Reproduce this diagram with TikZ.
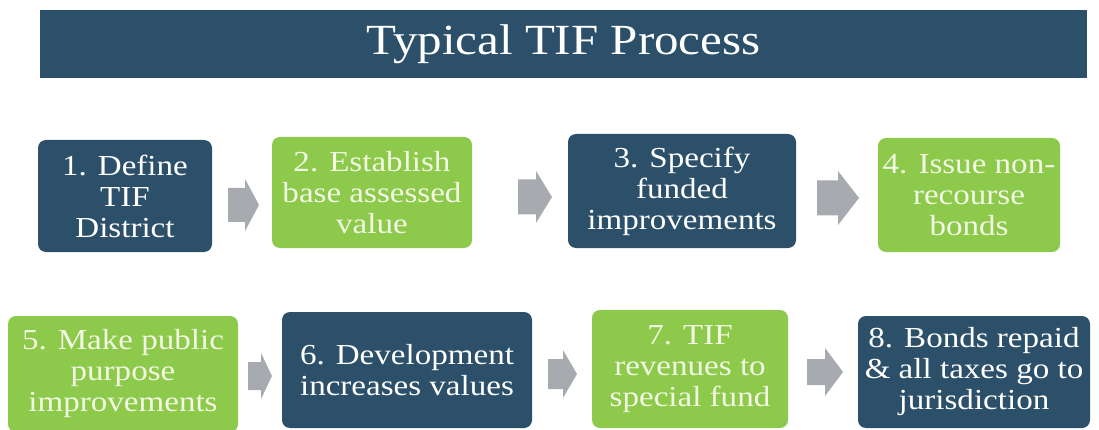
\documentclass[tikz,border=0pt]{standalone}
\usepackage{fontspec}
\setmainfont{Liberation Serif}[FakeStretch=1.14]
\definecolor{navy}{HTML}{2C5069}
\definecolor{lime}{HTML}{8DC94A}
\definecolor{arr}{HTML}{A7AAAE}
\definecolor{cream}{HTML}{F2F8E4}
\tikzset{
  stepbox/.style={rounded corners=8pt, inner sep=0pt, align=center,
    font=\fontsize{29}{31}\selectfont},
  darkbox/.style={stepbox, fill=navy, text=white},
  greenbox/.style={stepbox, fill=lime, text=cream},
  blockarrow/.style={fill=arr}
}
% name, x0, yc, length, head length, shaft height, head height
\newcommand\blockarr[7]{%
  \coordinate (#1) at ({#2+#4/2},#3);
  \fill[blockarrow] ({#2},{#3-#6/2}) -- ({#2+#4-#5},{#3-#6/2}) -- ({#2+#4-#5},{#3-#7/2})
    -- ({#2+#4},{#3}) -- ({#2+#4-#5},{#3+#7/2}) -- ({#2+#4-#5},{#3+#6/2}) -- ({#2},{#3+#6/2}) -- cycle;}
\begin{document}
\begin{tikzpicture}[x=1pt,y=-1pt]
\useasboundingbox (0,0) rectangle (1099,430);
\fill[white] (0,0) rectangle (1099,430);
\node[fill=navy, minimum width=1047pt, minimum height=68pt, inner sep=0pt,
  text=white, font=\fontsize{43}{46}\selectfont] (title) at (563.5,44) {\raisebox{-4pt}{Typical TIF Process}};
% row 1
\node[darkbox, minimum width=174pt, minimum height=112pt] (b1) at (125,196) {1. Define\\TIF\\District};
\node[greenbox, minimum width=200pt, minimum height=111pt] (b2) at (372,192.5) {2. Establish\\base assessed\\value};
\node[darkbox, minimum width=228pt, minimum height=114pt] (b3) at (682,191) {3. Specify\\funded\\improvements};
\node[greenbox, minimum width=182pt, minimum height=114pt] (b4) at (969,195) {4. Issue non-\\recourse\\bonds};
% row 2
\node[greenbox, minimum width=230pt, minimum height=116pt] (b5) at (123,374) {5. Make public\\purpose\\improvements};
\node[darkbox, minimum width=250pt, minimum height=116pt] (b6) at (407,370) {6. Development\\increases values};
\node[greenbox, minimum width=196pt, minimum height=118pt] (b7) at (690,369) {7. TIF\\revenues to\\special fund};
\node[darkbox, minimum width=232pt, minimum height=112pt] (b8) at (974,372) {8. Bonds repaid\\\& all taxes go to\\jurisdiction};
% arrows
\blockarr{a1}{228}{205}{31}{14}{34}{52}
\blockarr{a2}{518}{197}{34}{16}{35}{52}
\blockarr{a3}{817}{198}{42}{21}{35}{54}
\blockarr{a5}{248}{376}{24}{11}{28}{46}
\blockarr{a6}{548}{374}{29}{14}{30}{48}
\blockarr{a7}{807}{372}{36}{18}{26}{48}
\end{tikzpicture}
\end{document}
